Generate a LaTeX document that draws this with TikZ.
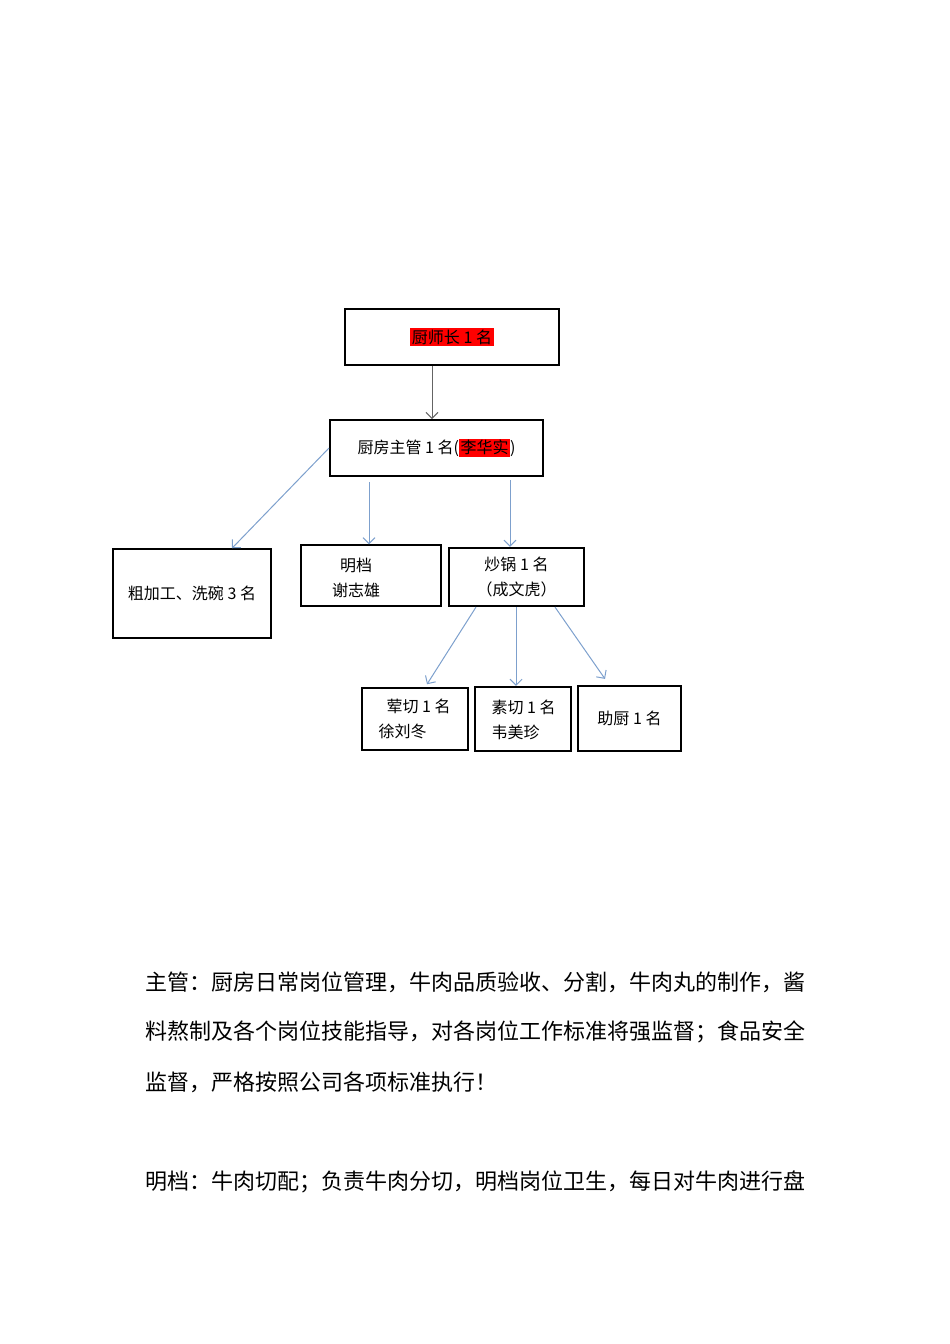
\documentclass[tikz,border=0pt]{standalone}
\usepackage{fontspec}
\setmainfont{Noto Sans CJK SC}
\usepackage{tikz}
\usepackage{xcolor}
\usetikzlibrary{positioning,arrows.meta}

\definecolor{linkblue}{RGB}{125,160,205}
\definecolor{linkgray}{RGB}{100,100,100}
\newcommand{\redmark}[1]{{\setlength{\fboxsep}{1.5pt}\colorbox{red}{#1}}}

\begin{document}
\begin{tikzpicture}[
    x=1pt, y=-1pt,
    every node/.style={font=\fontsize{16}{25}\selectfont},
    post/.style={draw, line width=1.5pt, inner sep=0pt},
    bluelink/.style={draw=linkblue, line width=1pt, -{Straight Barb[length=6pt,width=12pt]}},
    graylink/.style={draw=linkgray, line width=1pt, -{Straight Barb[length=6pt,width=12pt]}},
    duty/.style={anchor=west, inner sep=0pt, font=\fontsize{22}{22}\selectfont}
]
\useasboundingbox (0,0) rectangle (950,1344);

% Head chef and supervisor
\node[post, minimum width=214pt, minimum height=56pt] (chef) at (452,337) {\redmark{厨师长 1 名}};
\node[post, line width=2pt, minimum width=213pt, minimum height=56pt] (super) at (436.5,448) {厨房主管 1 名(\redmark{李华实})};

% Second row
\node[post, minimum width=158pt, minimum height=89pt] (rough) at (192,593.5) {粗加工、洗碗 3 名};
\node[post, line width=1.2pt, minimum width=140pt, minimum height=61pt] (mingdang) at (371,575.5) {};
\node[align=center] (mingdang-t) at (356,577.5) {明档\\谢志雄};
\node[post, line width=2.2pt, minimum width=135pt, minimum height=58pt, align=center] (wok) at (516.5,577) {炒锅 1 名\\（成文虎）};

% Third row
\node[post, minimum width=106pt, minimum height=62pt] (meat) at (415,719) {};
\node[anchor=west, align=left] (meat-t) at (375,718.5) {\hspace*{8pt}荤切 1 名\\徐刘冬};
\node[post, line width=2.2pt, minimum width=96pt, minimum height=64pt] (veg) at (523,719) {};
\node[anchor=west, align=left] (veg-t) at (488,719.5) {素切 1 名\\韦美珍};
\node[post, line width=2.2pt, minimum width=103pt, minimum height=65pt] (helper) at (629.5,718.5) {助厨 1 名};

% Links
\draw[graylink] ([xshift=-20pt]chef.south) -- ([xshift=-20pt]chef.south |- super.north);
\draw[bluelink] (super.west) -- ([xshift=40pt]rough.north);
\draw[bluelink] ([xshift=-67.5pt,yshift=-5pt]super.south) -- ([xshift=-67.5pt]super.south |- mingdang.north);
\draw[bluelink] ([xshift=73.5pt,yshift=-3pt]super.south) -- ([xshift=73.5pt]super.south |- wok.north);
\draw[bluelink] ([xshift=-40.5pt]wok.south) -- ([xshift=12pt,yshift=3pt]meat.north);
\draw[bluelink] ([xshift=-0.5pt]wok.south) -- ([xshift=-0.5pt]wok.south |- veg.north);
\draw[bluelink] ([xshift=38.5pt]wok.south) -- ([xshift=-24.5pt,yshift=6pt]helper.north);

% Duties
\node[duty] (duty1) at (145,982) {主管：厨房日常岗位管理，牛肉品质验收、分割，牛肉丸的制作，酱};
\node[duty] (duty2) at (145,1032) {料熬制及各个岗位技能指导，对各岗位工作标准将强监督；食品安全};
\node[duty] (duty3) at (145,1082) {监督，严格按照公司各项标准执行！};
\node[duty] (duty4) at (145,1182) {明档：牛肉切配；负责牛肉分切，明档岗位卫生，每日对牛肉进行盘};

\end{tikzpicture}
\end{document}
